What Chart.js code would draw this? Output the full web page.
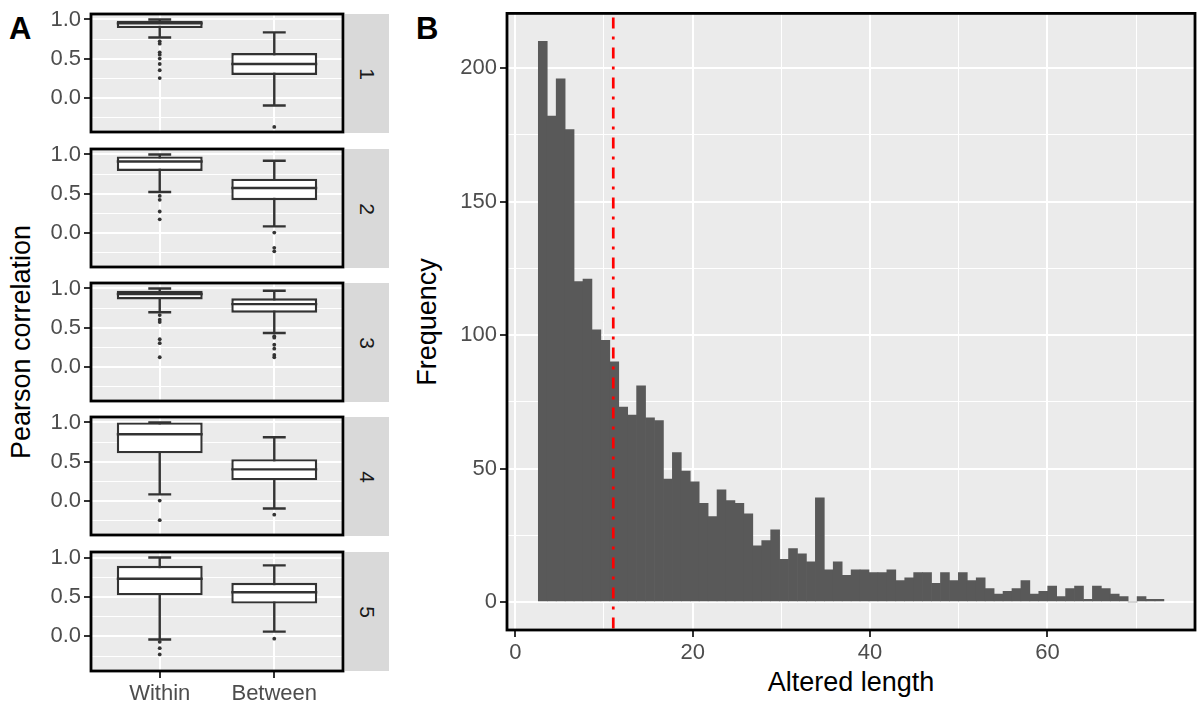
<!DOCTYPE html>
<html>
<head>
<meta charset="utf-8">
<script src="https://cdn.jsdelivr.net/npm/chart.js@4.4.0/dist/chart.umd.min.js"></script>
<style>
  html, body { margin: 0; padding: 0; background: #ffffff; }
  body { position: relative; width: 1198px; height: 706px; overflow: hidden;
         font-family: "Liberation Sans", Arial, sans-serif; }
  .holder { position: absolute; }
  .txt { position: absolute; white-space: nowrap; line-height: 1; color: #000000; }
  .strip { position: absolute; background: #D9D9D9; }
  .strip span { position: absolute; left: 50%; top: 50%; font-size: 21px; line-height: 1;
                color: #1A1A1A; transform: translate(-50%, -50%) rotate(90deg); }
</style>
</head>
<body>
<div class="txt" style="left:9px; top:13px; font-size:31px; font-weight:bold;">A</div>
<div class="txt" style="left:416px; top:13px; font-size:31px; font-weight:bold;">B</div>
<div class="txt" style="left:21px; top:342px; font-size:27px; transform:translate(-50%,-50%) rotate(-90deg);">Pearson correlation</div>
<div class="txt" style="left:427px; top:322px; font-size:27px; transform:translate(-50%,-50%) rotate(-90deg);">Frequency</div>
<div class="txt" style="left:851px; top:682px; font-size:27px; transform:translate(-50%,-50%);">Altered length</div>

<script>
// panel A: correlation boxplots, one facet per cluster
const groups = ["Within", "Between"];
const facets = ["1", "2", "3", "4", "5"];
// [lower whisker, q1, median, q3, upper whisker]
const withinStats = [
    [0.77, 0.89, 0.95, 0.985, 1.00],
    [0.52, 0.79, 0.91, 0.975, 1.00],
    [0.695, 0.86, 0.93, 0.97, 1.00],
    [0.08, 0.605, 0.85, 1.00, 1.00],
    [-0.04, 0.52, 0.73, 0.895, 1.00]
];
const betweenStats = [
    [-0.10, 0.29, 0.43, 0.57, 0.835],
    [0.08, 0.415, 0.57, 0.69, 0.92],
    [0.43, 0.69, 0.80, 0.875, 0.97],
    [-0.10, 0.26, 0.40, 0.53, 0.81],
    [0.06, 0.415, 0.56, 0.68, 0.90]
];
const withinOutliers = [
    [0.72, 0.69, 0.58, 0.55, 0.50, 0.43, 0.35, 0.25],
    [0.47, 0.42, 0.27, 0.17],
    [0.66, 0.60, 0.57, 0.35, 0.30, 0.12],
    [0.00, -0.25],
    [-0.07, -0.15, -0.23]
];
const betweenOutliers = [
    [-0.375],
    [0.00, -0.195, -0.24],
    [0.39, 0.37, 0.28, 0.23, 0.15, 0.12],
    [-0.18],
    [-0.03]
];
const corrTicks = [0, 0.5, 1];
const corrMinor = [-0.25, 0.25, 0.75];

// panel B: histogram of altered length
const lengthCounts = [
    210, 182, 196, 177, 120, 121, 102, 98, 90, 73,
    70, 81, 69, 68, 46, 56, 49, 45, 37, 32,
    42, 38, 37, 33, 21, 23, 27, 16, 20, 18,
    15, 39, 12, 15, 10, 12, 12, 11, 11, 12,
    8, 9, 11, 11, 7, 11, 8, 11, 8, 9,
    5, 3, 4, 5, 8, 3, 4, 6, 2, 5,
    6, 1, 6, 5, 3, 2, 0, 2, 1, 1
];
const binStart = 2.6;
const binWidth = 1.0075;
const lengthTicks = [0, 20, 40, 60];
const lengthMinor = [10, 30, 50, 70];
const freqTicks = [0, 50, 100, 150, 200];
const freqMinor = [25, 75, 125, 175];
const cutoff = 11.05;

Chart.defaults.font.family = "'Liberation Sans', Arial, sans-serif";

// grey panel + black frame
const ggPanel = {
    id: "ggPanel",
    beforeDraw(chart) {
        const { ctx, chartArea: a } = chart;
        ctx.save();
        ctx.fillStyle = "#EBEBEB";
        ctx.fillRect(a.left, a.top, a.right - a.left, a.bottom - a.top);
        ctx.restore();
    },
    afterDraw(chart) {
        const { ctx, chartArea: a } = chart;
        ctx.save();
        ctx.strokeStyle = "#000000";
        ctx.lineWidth = 2.8;
        ctx.strokeRect(a.left, a.top, a.right - a.left, a.bottom - a.top);
        ctx.restore();
    }
};

// whiskers, caps and medians for the boxes
const boxParts = {
    id: "boxParts",
    beforeDatasetsDraw(chart, args, opts) {
        if (!opts.stats) return;
        const { ctx, scales: { x, y } } = chart;
        ctx.save();
        ctx.strokeStyle = "#333333";
        ctx.lineWidth = 2.4;
        opts.stats.forEach((s, g) => {
            const cx = x.getPixelForValue(g + 1);
            const hw = x.getPixelForValue(g + 1 + opts.capWidth / 2) - cx;
            ctx.beginPath();
            ctx.moveTo(cx, y.getPixelForValue(s[0]));
            ctx.lineTo(cx, y.getPixelForValue(s[4]));
            [s[0], s[4]].forEach(v => {
                const py = y.getPixelForValue(v);
                ctx.moveTo(cx - hw, py);
                ctx.lineTo(cx + hw, py);
            });
            ctx.stroke();
        });
        ctx.restore();
    },
    afterDatasetsDraw(chart, args, opts) {
        if (!opts.stats) return;
        const { ctx, scales: { x, y } } = chart;
        ctx.save();
        ctx.strokeStyle = "#333333";
        ctx.lineWidth = 2.4;
        opts.stats.forEach((s, g) => {
            const l = x.getPixelForValue(g + 1 - opts.boxWidth / 2);
            const r = x.getPixelForValue(g + 1 + opts.boxWidth / 2);
            const py = y.getPixelForValue(s[2]);
            ctx.beginPath();
            ctx.moveTo(l, py);
            ctx.lineTo(r, py);
            ctx.stroke();
        });
        ctx.restore();
    }
};

// dot-dash reference line
const vLine = {
    id: "vLine",
    afterDatasetsDraw(chart, args, opts) {
        if (opts.value === undefined) return;
        const { ctx, chartArea: a, scales: { x } } = chart;
        const px = x.getPixelForValue(opts.value);
        ctx.save();
        ctx.strokeStyle = "#FF0000";
        ctx.lineWidth = 2.7;
        ctx.setLineDash([11, 8, 3, 8]);
        ctx.lineDashOffset = 26;
        ctx.beginPath();
        ctx.moveTo(px, a.top);
        ctx.lineTo(px, a.bottom);
        ctx.stroke();
        ctx.restore();
    }
};

// keep the plot box exactly where afterFit puts it
function noPad(s) {
    s.paddingTop = 0;
    s.paddingBottom = 0;
    s.paddingLeft = 0;
    s.paddingRight = 0;
}

function ggAxis(major, minor, fmt, size, extra) {
    const isMajor = v => major.includes(v);
    return Object.assign({
        type: "linear",
        bounds: "data",
        offset: false,
        border: { display: false },
        grid: {
            offset: false,
            color: "#FFFFFF",
            lineWidth: c => (c.tick && isMajor(c.tick.value)) ? 2 : 1,
            tickLength: 7,
            tickWidth: 2,
            tickColor: c => (c.tick && isMajor(c.tick.value)) ? "#333333" : "rgba(0,0,0,0)"
        },
        ticks: {
            color: "#4D4D4D",
            font: { size: 22 },
            padding: 3,
            autoSkip: false,
            maxRotation: 0,
            callback: v => isMajor(v) ? fmt(v) : ""
        },
        afterBuildTicks: s => {
            s.ticks = major.concat(minor).sort((a, b) => a - b).map(v => ({ value: v }));
        },
        afterFit: s => {
            noPad(s);
            if (s.isHorizontal()) s.height = size; else s.width = size;
        }
    }, extra);
}

function addHolder(left, top, width, height) {
    const div = document.createElement("div");
    div.className = "holder";
    div.style.left = left + "px";
    div.style.top = top + "px";
    div.style.width = width + "px";
    div.style.height = height + "px";
    const cv = document.createElement("canvas");
    div.appendChild(cv);
    document.body.appendChild(div);
    return cv;
}

// ---- panel A ----
const panelTops = [14, 149, 283, 417, 552];
const panelH = 119;

facets.forEach((f, i) => {
    const last = i === facets.length - 1;
    const top = panelTops[i];
    const w = withinStats[i], b = betweenStats[i];

    const strip = document.createElement("div");
    strip.className = "strip";
    strip.style.left = "345px";
    strip.style.top = top + "px";
    strip.style.width = "44px";
    strip.style.height = panelH + "px";
    strip.innerHTML = "<span>" + f + "</span>";
    document.body.appendChild(strip);

    const cv = addHolder(0, top - 12, 347, 12 + panelH + (last ? 38 : 3));
    new Chart(cv, {
        type: "bar",
        data: {
            datasets: [{
                type: "bar",
                data: [{ x: 1, y: [w[1], w[3]] }, { x: 2, y: [b[1], b[3]] }],
                backgroundColor: "#FFFFFF",
                borderColor: "#333333",
                borderWidth: 2.4,
                borderSkipped: false,
                barPercentage: 0.75,
                categoryPercentage: 1
            }, {
                type: "scatter",
                data: withinOutliers[i].map(v => ({ x: 1, y: v }))
                    .concat(betweenOutliers[i].map(v => ({ x: 2, y: v }))),
                pointRadius: 1.9,
                backgroundColor: "#333333",
                borderWidth: 0
            }]
        },
        options: {
            responsive: true,
            maintainAspectRatio: false,
            animation: false,
            layout: { padding: { top: 12, right: 3, bottom: last ? 0 : 3, left: 0 } },
            plugins: {
                legend: { display: false },
                tooltip: { enabled: false },
                boxParts: { stats: [w, b], capWidth: 0.2, boxWidth: 0.75 }
            },
            scales: {
                x: {
                    type: "linear",
                    min: 0.4,
                    max: 2.6,
                    bounds: "data",
                    offset: false,
                    border: { display: false },
                    grid: {
                        offset: false, color: "#FFFFFF", lineWidth: 2,
                        drawTicks: last, tickLength: 7, tickWidth: 2, tickColor: "#333333"
                    },
                    ticks: {
                        display: last, color: "#4D4D4D", font: { size: 22 }, padding: 3,
                        autoSkip: false, maxRotation: 0,
                        callback: v => groups[v - 1]
                    },
                    afterBuildTicks: s => { s.ticks = groups.map((g, k) => ({ value: k + 1 })); },
                    afterFit: s => { noPad(s); s.height = last ? 38 : 0; }
                },
                y: ggAxis(corrTicks, corrMinor, v => v.toFixed(1), 91, {
                    min: -0.44,
                    max: 1.07
                })
            }
        },
        plugins: [ggPanel, boxParts]
    });
});

// ---- panel B ----
const cvB = addHolder(440, 0, 758, 706);
new Chart(cvB, {
    type: "bar",
    data: {
        datasets: [{
            data: lengthCounts.map((c, i) => ({ x: binStart + (i + 0.5) * binWidth, y: c })),
            backgroundColor: "#595959",
            borderWidth: 0,
            barPercentage: 1,
            categoryPercentage: 1
        }]
    },
    options: {
        responsive: true,
        maintainAspectRatio: false,
        animation: false,
        layout: { padding: { top: 13.4, right: 3, bottom: 0, left: 0 } },
        plugins: {
            legend: { display: false },
            tooltip: { enabled: false },
            vLine: { value: cutoff }
        },
        scales: {
            x: ggAxis(lengthTicks, lengthMinor, v => String(v), 76, {
                min: -0.93,
                max: 76.63
            }),
            y: ggAxis(freqTicks, freqMinor, v => String(v), 67, {
                min: -10.5,
                max: 220.5
            })
        }
    },
    plugins: [ggPanel, vLine]
});
</script>
</body>
</html>
